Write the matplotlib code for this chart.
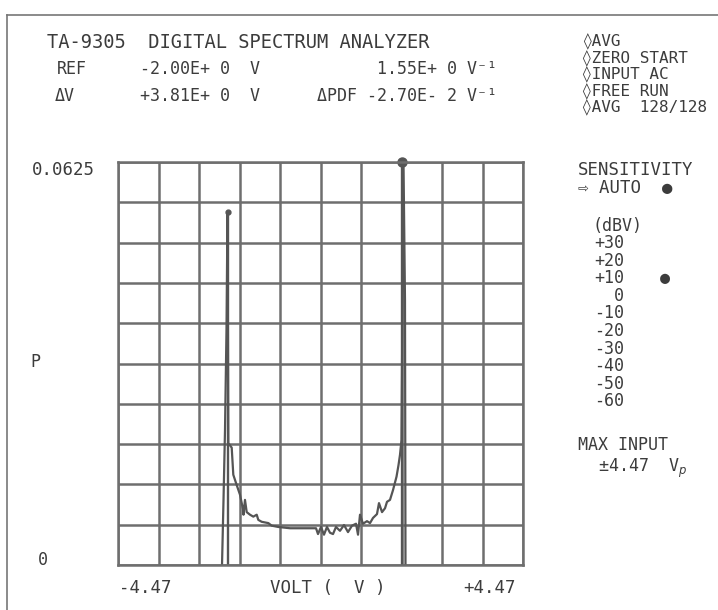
import matplotlib.pyplot as plt
from matplotlib.lines import Line2D
import numpy as np

# trace (volts, probability)
volts = [-2.174, -2.141, -2.108, -2.075, -2.053, -2.035, -1.960, -1.925, -1.850,
         -1.777, -1.739, -1.704, -1.700, -1.667, -1.629, -1.556, -1.483, -1.408,
         -1.373, -1.298, -1.152, -1.077, -0.932, -0.673, -0.099, -0.055, 0.011,
         0.077, 0.143, 0.210, 0.276, 0.342, 0.430, 0.519, 0.607, 0.695, 0.784,
         0.828, 0.872, 0.938, 1.026, 1.093, 1.159, 1.247, 1.291, 1.358, 1.424,
         1.468, 1.534, 1.600, 1.678, 1.722, 1.755, 1.788, 1.810, 1.832, 1.865, 1.876]
pdf = [0.0, 0.0101, 0.0209, 0.0365, 0.0548, 0.0189, 0.0182, 0.0140, 0.0124,
       0.0109, 0.0096, 0.0084, 0.0078, 0.0101, 0.0082, 0.0078, 0.0075, 0.0078,
       0.0070, 0.0067, 0.0065, 0.0061, 0.0059, 0.0057, 0.0057, 0.0048, 0.0059,
       0.0047, 0.0059, 0.0050, 0.0048, 0.0059, 0.0053, 0.0062, 0.0051, 0.0061,
       0.0064, 0.0047, 0.0078, 0.0064, 0.0068, 0.0065, 0.0073, 0.0079, 0.0096,
       0.0082, 0.0088, 0.0098, 0.0101, 0.0116, 0.0137, 0.0155, 0.0171, 0.0194,
       0.0411, 0.0625, 0.0411, 0.0]

# cursors
cursor_v = [-2.04, 1.81]
cursor_p = [0.0548, 0.0625]

header = ["TA-9305  DIGITAL SPECTRUM ANALYZER"]
status = ["\u25caAVG", "\u25caZERO START", "\u25caINPUT AC", "\u25caFREE RUN", "\u25caAVG  128/128"]
sens_levels = ["+30", "+20", "+10", "0", "-10", "-20", "-30", "-40", "-50", "-60"]

W, H = 718, 610
ink = "#3c3c3c"
line_c = "#6e6e6e"
mono = ["DejaVu Sans Mono", "DejaVu Sans"]

fig = plt.figure(figsize=(W / 100, H / 100), dpi=100)


def put(x, y, s, ha="left", size=12):
    fig.text(x / W, 1 - y / H, s, ha=ha, va="center", fontsize=size,
             color=ink, family=mono)


# outer frame of the printout
fig.add_artist(Line2D([7 / W, 7 / W], [0, 1 - 15 / H], color="#777777", lw=1.2))
fig.add_artist(Line2D([7 / W, 1], [1 - 15 / H, 1 - 15 / H], color="#777777", lw=1.2))

ax = fig.add_axes([118 / W, 1 - 565 / H, 405 / W, 403 / H])
ax.set_xlim(-4.47, 4.47)
ax.set_ylim(0, 0.0625)
ax.set_xticks(np.linspace(-4.47, 4.47, 11))
ax.set_yticks(np.linspace(0, 0.0625, 11))
ax.grid(color=line_c, lw=1.8)
ax.tick_params(length=0, labelbottom=False, labelleft=False)
for sp in ax.spines.values():
    sp.set_color(line_c)
    sp.set_linewidth(1.8)

ax.plot(volts, pdf, color="#555555", lw=1.6)
ax.vlines(cursor_v, 0, cursor_p, color="#555555", lw=1.7)
ax.plot(cursor_v[0], cursor_p[0], "o", color="#555555", ms=3.5)
ax.plot(cursor_v[1], cursor_p[1], "o", color="#555555", ms=6.5, clip_on=False)

# header block
put(47, 43, header[0], size=13.5)
put(57, 69, "REF")
put(140, 69, "-2.00E+ 0  V")
put(497, 69, "1.55E+ 0 V\u207b\u00b9", ha="right")
put(55, 96, "\u0394V")
put(140, 96, "+3.81E+ 0  V")
put(497, 96, "\u0394PDF -2.70E- 2 V\u207b\u00b9", ha="right")
for i, s in enumerate(status):
    put(582, 42 + i * 16.5, s, size=11.5)

# axis labels
put(95, 170, "0.0625", ha="right", size=12.5)
put(43, 560, "0", ha="center")
put(35, 362, "P", ha="center")
put(145, 588, "-4.47", ha="center", size=12.5)
put(328, 588, "VOLT (  V )", ha="center", size=12.5)
put(490, 588, "+4.47", ha="center", size=12.5)

# sensitivity panel
put(578, 170, "SENSITIVITY", size=12.5)
put(578, 188, "\u21e8 AUTO  \u25cf", size=12.5)
put(592, 226, "(dBV)")
for i, s in enumerate(sens_levels):
    put(624, 243 + i * 17.6, s, ha="right")
put(665, 278, "\u25cf", ha="center")
put(578, 445, "MAX INPUT", size=12)
put(598, 468, "\u00b14.47  V$_p$", size=12)

fig.savefig("out.png", dpi=100)
